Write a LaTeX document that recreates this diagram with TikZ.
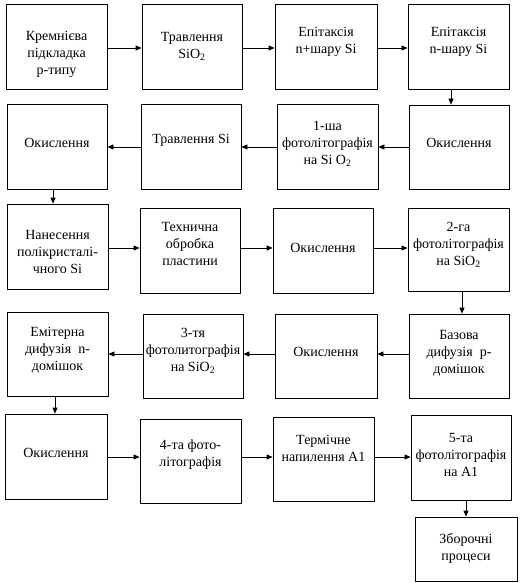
\documentclass[tikz,border=0pt]{standalone}
\usepackage{fontspec}
\setmainfont{Liberation Serif}
\usepackage{tikz}
\usetikzlibrary{arrows.meta, positioning}

\begin{document}
\begin{tikzpicture}[
    x=1pt, y=-1pt,
    every node/.style={font=\rmfamily\fontsize{14}{17}\selectfont, align=center, text=black},
    box/.style={
      rectangle, draw=black, fill=white, line width=0.8pt,
      minimum width=101pt, minimum height=85pt, inner sep=0pt
    },
    txt/.style={inner sep=0pt},
    arr/.style={-{Triangle[length=6pt, width=5pt]}, draw=black, line width=0.8pt}
  ]
    \useasboundingbox (0,0) rectangle (525,583);

    % ряд 1
    \node[box] (b11) at (56.5,46.5) {};
    \node[txt] (t11) at (56.5,54) {Кремнієва\\підкладка\\p-типу};
    \node[box, minimum width=100pt] (b12) at (192,46.5) {};
    \node[txt] (t12) at (192,46) {Травлення\\SiO\textsubscript{2}};
    \node[box, minimum width=102pt] (b13) at (326,46.5) {};
    \node[txt] (t13) at (326,42) {Епітаксія\\n+шару Si};
    \node[box] (b14) at (458.5,46.5) {};
    \node[txt] (t14) at (458.5,42) {Епітаксія\\n-шару Si};

    % ряд 2
    \node[box, minimum width=100pt, minimum height=84pt] (b24) at (459,147) {};
    \node[txt] (t24) at (459,143) {Окислення};
    \node[box] (b23) at (327.5,146.5) {};
    \node[txt] (t23) at (327.5,144) {1-ша\\фотолітографія\\на Si O\textsubscript{2}};
    \node[box, minimum width=100pt] (b22) at (191,146.5) {};
    \node[txt] (t22) at (191,140) {Травлення Si};
    \node[box, minimum width=100pt] (b21) at (57,146.5) {};
    \node[txt] (t21) at (57,143) {Окислення};

    % ряд 3
    \node[box] (b31) at (57.5,246.5) {};
    \node[txt] (t31) at (57.5,252) {Нанесення\\полікристалі-\\чного Si};
    \node[box, minimum width=100pt] (b32) at (190,250.5) {};
    \node[txt] (t32) at (190,244) {Технична\\обробка\\пластини};
    \node[box, minimum width=100pt] (b33) at (323,250.5) {};
    \node[txt] (t33) at (323,248) {Окислення};
    \node[box, minimum height=83pt] (b34) at (458.5,249.5) {};
    \node[txt] (t34) at (458.5,245) {2-га\\фотолітографія\\на SiO\textsubscript{2}};

    % ряд 4
    \node[box, minimum width=100pt, minimum height=84pt] (b44) at (459,356) {};
    \node[txt] (t44) at (459,353) {Базова\\дифузія\ \ p-\\домішок};
    \node[box, minimum width=102pt, minimum height=84pt] (b43) at (326,356) {};
    \node[txt] (t43) at (326,352) {Окислення};
    \node[box, minimum width=100pt, minimum height=84pt] (b42) at (193,356) {};
    \node[txt] (t42) at (193,351) {3-тя\\фотолитографія\\на SiO\textsubscript{2}};
    \node[box, minimum height=84pt] (b41) at (57.5,354) {};
    \node[txt] (t41) at (57.5,350) {Емітерна\\дифузія\ \ n-\\домішок};

    % ряд 5
    \node[box, minimum width=102pt] (b51) at (56,456.5) {};
    \node[txt] (t51) at (56,453) {Окислення};
    \node[box, minimum height=84pt] (b52) at (190.5,461) {};
    \node[txt] (t52) at (190.5,455) {4-та фото-\\літографія};
    \node[box, minimum height=84pt] (b53) at (323.5,459) {};
    \node[txt] (t53) at (323.5,448) {Термічне\\напилення A1};
    \node[box, minimum width=100pt] (b54) at (461,457.5) {};
    \node[txt] (t54) at (461,455) {5-та\\фотолітографія\\на A1};
    \node[box, minimum width=102pt, minimum height=64pt] (b6) at (466,549) {};
    \node[txt] (t6) at (466,548) {Зборочні\\процеси};

    % рівні стрілок
    \coordinate (r1) at (0,48);
    \coordinate (r2) at (0,147);
    \coordinate (r3) at (0,248);
    \coordinate (r4) at (0,354);
    \coordinate (r5) at (0,457);

    \draw[arr] (b11.east |- r1) -- (b12.west |- r1);
    \draw[arr] (b12.east |- r1) -- (b13.west |- r1);
    \draw[arr] (b13.east |- r1) -- (b14.west |- r1);
    \draw[arr] ([xshift=-7.5]b14.south) -- ([xshift=-7.5]b14.south |- b24.north);

    \draw[arr] (b24.west |- r2) -- (b23.east |- r2);
    \draw[arr] (b23.west |- r2) -- (b22.east |- r2);
    \draw[arr] (b22.west |- r2) -- (b21.east |- r2);
    \draw[arr] ([xshift=-4]b21.south) -- ([xshift=-4]b21.south |- b31.north);

    \draw[arr] (b31.east |- r3) -- (b32.west |- r3);
    \draw[arr] (b32.east |- r3) -- (b33.west |- r3);
    \draw[arr] (b33.east |- r3) -- (b34.west |- r3);
    \draw[arr] ([xshift=3.5]b34.south) -- ([xshift=3.5]b34.south |- b44.north);

    \draw[arr] (b44.west |- r4) -- (b43.east |- r4);
    \draw[arr] (b43.west |- r4) -- (b42.east |- r4);
    \draw[arr] (b42.west |- r4) -- (b41.east |- r4);
    \draw[arr] ([xshift=-2.5]b41.south) -- ([xshift=-2.5]b41.south |- b51.north);

    \draw[arr] (b51.east |- r5) -- (b52.west |- r5);
    \draw[arr] (b52.east |- r5) -- (b53.west |- r5);
    \draw[arr] (b53.east |- r5) -- (b54.west |- r5);
    \draw[arr] ([xshift=5]b54.south) -- ([xshift=5]b54.south |- b6.north);
  \end{tikzpicture}
\end{document}
